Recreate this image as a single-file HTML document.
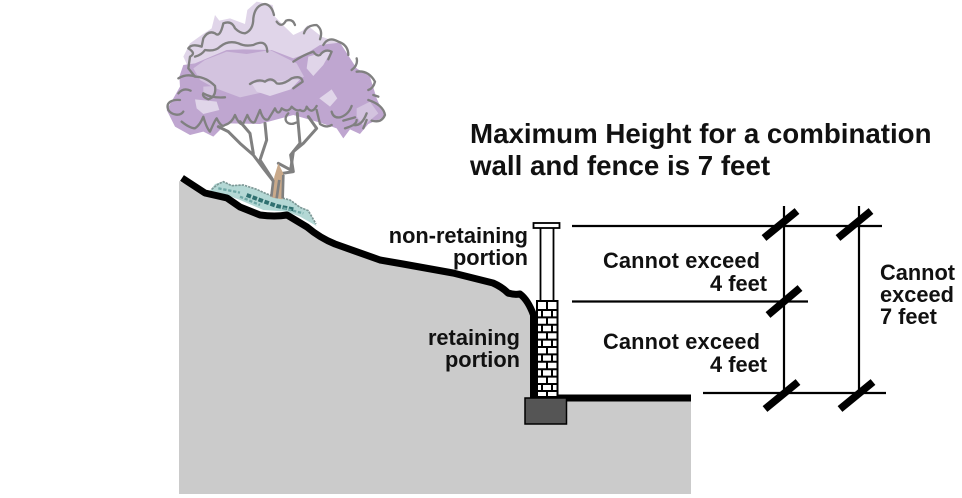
<!DOCTYPE html>
<html><head><meta charset="utf-8"><style>
html,body{margin:0;padding:0;background:#fff;width:962px;height:498px;overflow:hidden}
svg{display:block}
text{font-family:"Liberation Sans",Arial,sans-serif;font-weight:bold;fill:#111}
.s{font-size:21.8px}
.t{font-size:27.7px}
</style></head><body>
<svg width="962" height="498" viewBox="0 0 962 498" xmlns="http://www.w3.org/2000/svg">
<rect width="962" height="498" fill="#fff"/>
<!-- ground -->
<polygon points="179,181 205,194 227,199 240,207 260,215 287,215 307,227 335,244 380,260 403,264 453,273 493,283 508,293 520,294 530,307 534,398 691,398 691,494 179,494" fill="#cbcbcb"/>
<!-- tree -->
<g transform="translate(160,0) scale(0.3333)">
<!-- bush -->
<polygon points="150,572 165,552 190,545 215,555 245,555 290,568 340,590 390,600 420,620 445,632 470,678 420,650 380,635 310,630 240,600 200,585" fill="#b4d8d5"/>
<path d="M155,568 L175,552 L190,545 L215,557 L250,555 L290,568 L320,582 L350,590 L390,600 L420,622 L445,632 L468,672" fill="none" stroke="#7d9896" stroke-width="5" stroke-dasharray="7 3"/>
<path d="M260,585 L300,600 L350,618 L400,628" fill="none" stroke="#2f7070" stroke-width="12" stroke-dasharray="14 5"/>
<path d="M175,565 L240,578 M240,590 L300,615 M370,625 L430,640" fill="none" stroke="#6fa8a6" stroke-width="7" stroke-dasharray="10 5"/>
<!-- canopy -->
<polygon points="165,45 178,62 210,55 255,72 262,30 290,5 338,15 345,50 372,78 400,105 428,92 442,76 485,110 535,128 540,150 525,225 100,235 70,170 90,130 125,105 155,85" fill="#e0d5e9"/>
<polygon points="70,195 105,190 200,150 250,148 335,150 400,175 440,160 480,135 540,128 590,205 630,230 650,295 675,350 625,372 600,402 570,388 550,415 530,385 480,368 400,345 300,372 200,370 160,410 130,395 90,405 45,380 20,330 40,295 60,260 58,230" fill="#bfa6d0"/>
<polygon points="100,205 135,180 200,155 260,162 330,150 410,190 432,230 350,268 240,292 160,262 120,240" fill="#d3c3df"/>
<polygon points="445,170 515,150 490,195 460,228 440,205" fill="#e0d5e9"/>
<polygon points="275,250 420,238 392,268 330,288 290,275" fill="#e0d5e9"/>
<polygon points="105,298 170,305 178,330 130,342 110,325" fill="#e0d5e9"/>
<polygon points="478,295 515,268 532,295 510,320" fill="#e0d5e9"/>
<polygon points="590,325 630,305 655,340 610,378 590,350" fill="#d3c3df"/>
<polygon points="130,260 165,258 165,295 130,285" fill="#d3c3df"/>
<!-- branches -->
<g fill="none" stroke="#808080" stroke-width="9" stroke-linecap="round" stroke-linejoin="round">
<path d="M345,590 L345,550 L310,505 L280,465 L240,430 L205,395 L175,380"/>
<path d="M345,550 L300,480 L320,420 L315,370"/>
<path d="M280,460 L270,400 L240,365"/>
<path d="M360,570 L368,520 L400,515 L392,465 L420,430 L412,340"/>
<path d="M355,490 L392,510 L400,455 L430,430 L470,385 L445,350"/>
</g>
<g fill="none" stroke="#808080" stroke-width="7" stroke-linecap="round" stroke-linejoin="round">
<path d="M70,335 C60,350 35,345 25,330 C15,305 40,298 60,300 M55,280 Q70,262 92,272 M55,235 Q80,220 108,230 Q140,232 165,258 Q170,290 145,298 Q125,290 130,280 Q155,295 195,292"/>
<path d="M105,230 L85,205 L90,170 Q110,160 85,145 Q95,130 125,140 L130,115 Q145,90 165,100 Q180,115 190,70 Q215,60 225,85 Q240,100 255,100 Q280,90 280,55 Q285,15 315,12 Q335,15 342,45"/>
<path d="M105,170 Q125,165 135,150 Q165,155 180,140 Q205,120 235,130 Q255,140 280,135 Q320,115 322,155"/>
<path d="M350,65 Q365,85 378,62 Q398,55 405,75"/>
<path d="M432,100 Q440,75 470,75 Q490,90 480,118"/>
<path d="M490,135 Q505,108 535,125 Q565,135 565,165 M575,210 Q595,195 590,175 M590,215 Q625,210 645,245 Q640,265 625,270 M640,285 L655,290 M625,300 Q670,315 675,345 Q665,370 635,362"/>
<path d="M400,185 Q430,165 460,155 Q470,170 480,165 Q495,145 515,155 L505,178"/>
<path d="M270,252 Q295,235 315,245 Q335,230 350,250 Q370,255 395,235 Q425,225 428,245 L400,265"/>
<path d="M65,365 Q90,385 105,385 Q120,375 130,350 Q140,385 150,395 Q165,360 170,355 Q185,385 195,375 Q215,370 225,345 Q240,380 250,370 L262,345 Q275,375 285,365 L300,330 Q310,365 325,358 L345,325 Q355,350 365,325 Q385,340 395,320 Q410,335 420,330 Q435,340 440,320 Q455,345 470,318 M470,330 L480,372 Q500,385 515,375"/>
<path d="M385,340 C365,360 385,380 408,368"/>
<path d="M515,335 Q520,355 540,352 Q565,345 575,318 M550,362 L585,352 M555,385 Q590,375 590,360 M580,375 Q605,380 620,340 M610,385 L620,360"/>
</g>
<!-- trunk -->
<polygon points="335,592 343,530 355,490 370,520 367,598" fill="#c9a98a"/>
<path d="M334,590 L340,540 M350,595 L358,540 M368,595 L370,525" fill="none" stroke="#808080" stroke-width="8"/>
</g>
<!-- slope line -->
<path d="M182,178 L205,193 L227,198 L240,207 L260,215 Q275,217 287,215 L307,227 Q320,238 335,244 L380,260 L403,264 L453,273 L493,283 Q502,287 508,293 Q514,295 520,294 Q528,300 533.500,315 L533.500,398 L691,398" fill="none" stroke="#000" stroke-width="7" stroke-linejoin="round"/>
<!-- fence -->
<rect x="540.500" y="227" width="13" height="74" fill="#fff" stroke="#000" stroke-width="1.800"/>
<rect x="533.500" y="223" width="26" height="5" fill="#fff" stroke="#000" stroke-width="1.800"/>
<!-- bricks -->
<rect x="537" y="301" width="20.500" height="96" fill="#fff" stroke="#000" stroke-width="2"/>
<g stroke="#000" stroke-width="2" fill="none">
<path d="M537,310H557M537,317.400H557M537,324.800H557M537,332.200H557M537,339.600H557M537,347H557M537,354.400H557M537,361.800H557M537,369.200H557M537,376.600H557M537,384H557M537,391H557"/>
<path d="M547,301V310M542,310V317.400M552,310V317.400M547,317.400V324.800M542,324.800V332.200M552,324.800V332.200M547,332.200V339.600M542,339.600V347M552,339.600V347M547,347V354.400M542,354.400V361.800M552,354.400V361.800M547,361.800V369.200M542,369.200V376.600M552,369.200V376.600M547,376.600V384M542,384V391M552,384V391M547,391V397"/>
</g>
<!-- footing -->
<rect x="525" y="398" width="41.500" height="26" fill="#555" stroke="#000" stroke-width="1.500"/>
<!-- dimensions -->
<g stroke="#000" fill="none">
<path d="M572,226H882M572,301.500H808M703,393H886" stroke-width="2.200"/>
<path d="M784,206V394M859,206V394" stroke-width="2.200"/>
<path d="M764,238L797,211M838,238L871,211M768,315L800,288M765,409L798,382M840,409L873,382" stroke-width="7.500"/>
</g>
<!-- labels -->
<text class="t" x="470" y="143">Maximum Height for a combination</text>
<text class="t" x="470" y="175">wall and fence is 7 feet</text>
<text class="s" x="528" y="243" text-anchor="end">non-retaining</text>
<text class="s" x="528" y="265" text-anchor="end">portion</text>
<text class="s" x="520" y="345" text-anchor="end">retaining</text>
<text class="s" x="520" y="367" text-anchor="end">portion</text>
<text class="s" x="760" y="268" text-anchor="end" textLength="157" lengthAdjust="spacing">Cannot exceed</text>
<text class="s" x="767" y="291" text-anchor="end">4 feet</text>
<text class="s" x="760" y="349" text-anchor="end" textLength="157" lengthAdjust="spacing">Cannot exceed</text>
<text class="s" x="767" y="372" text-anchor="end">4 feet</text>
<text class="s" x="880" y="280">Cannot</text>
<text class="s" x="880" y="302">exceed</text>
<text class="s" x="880" y="324">7 feet</text>
</svg>
</body></html>
